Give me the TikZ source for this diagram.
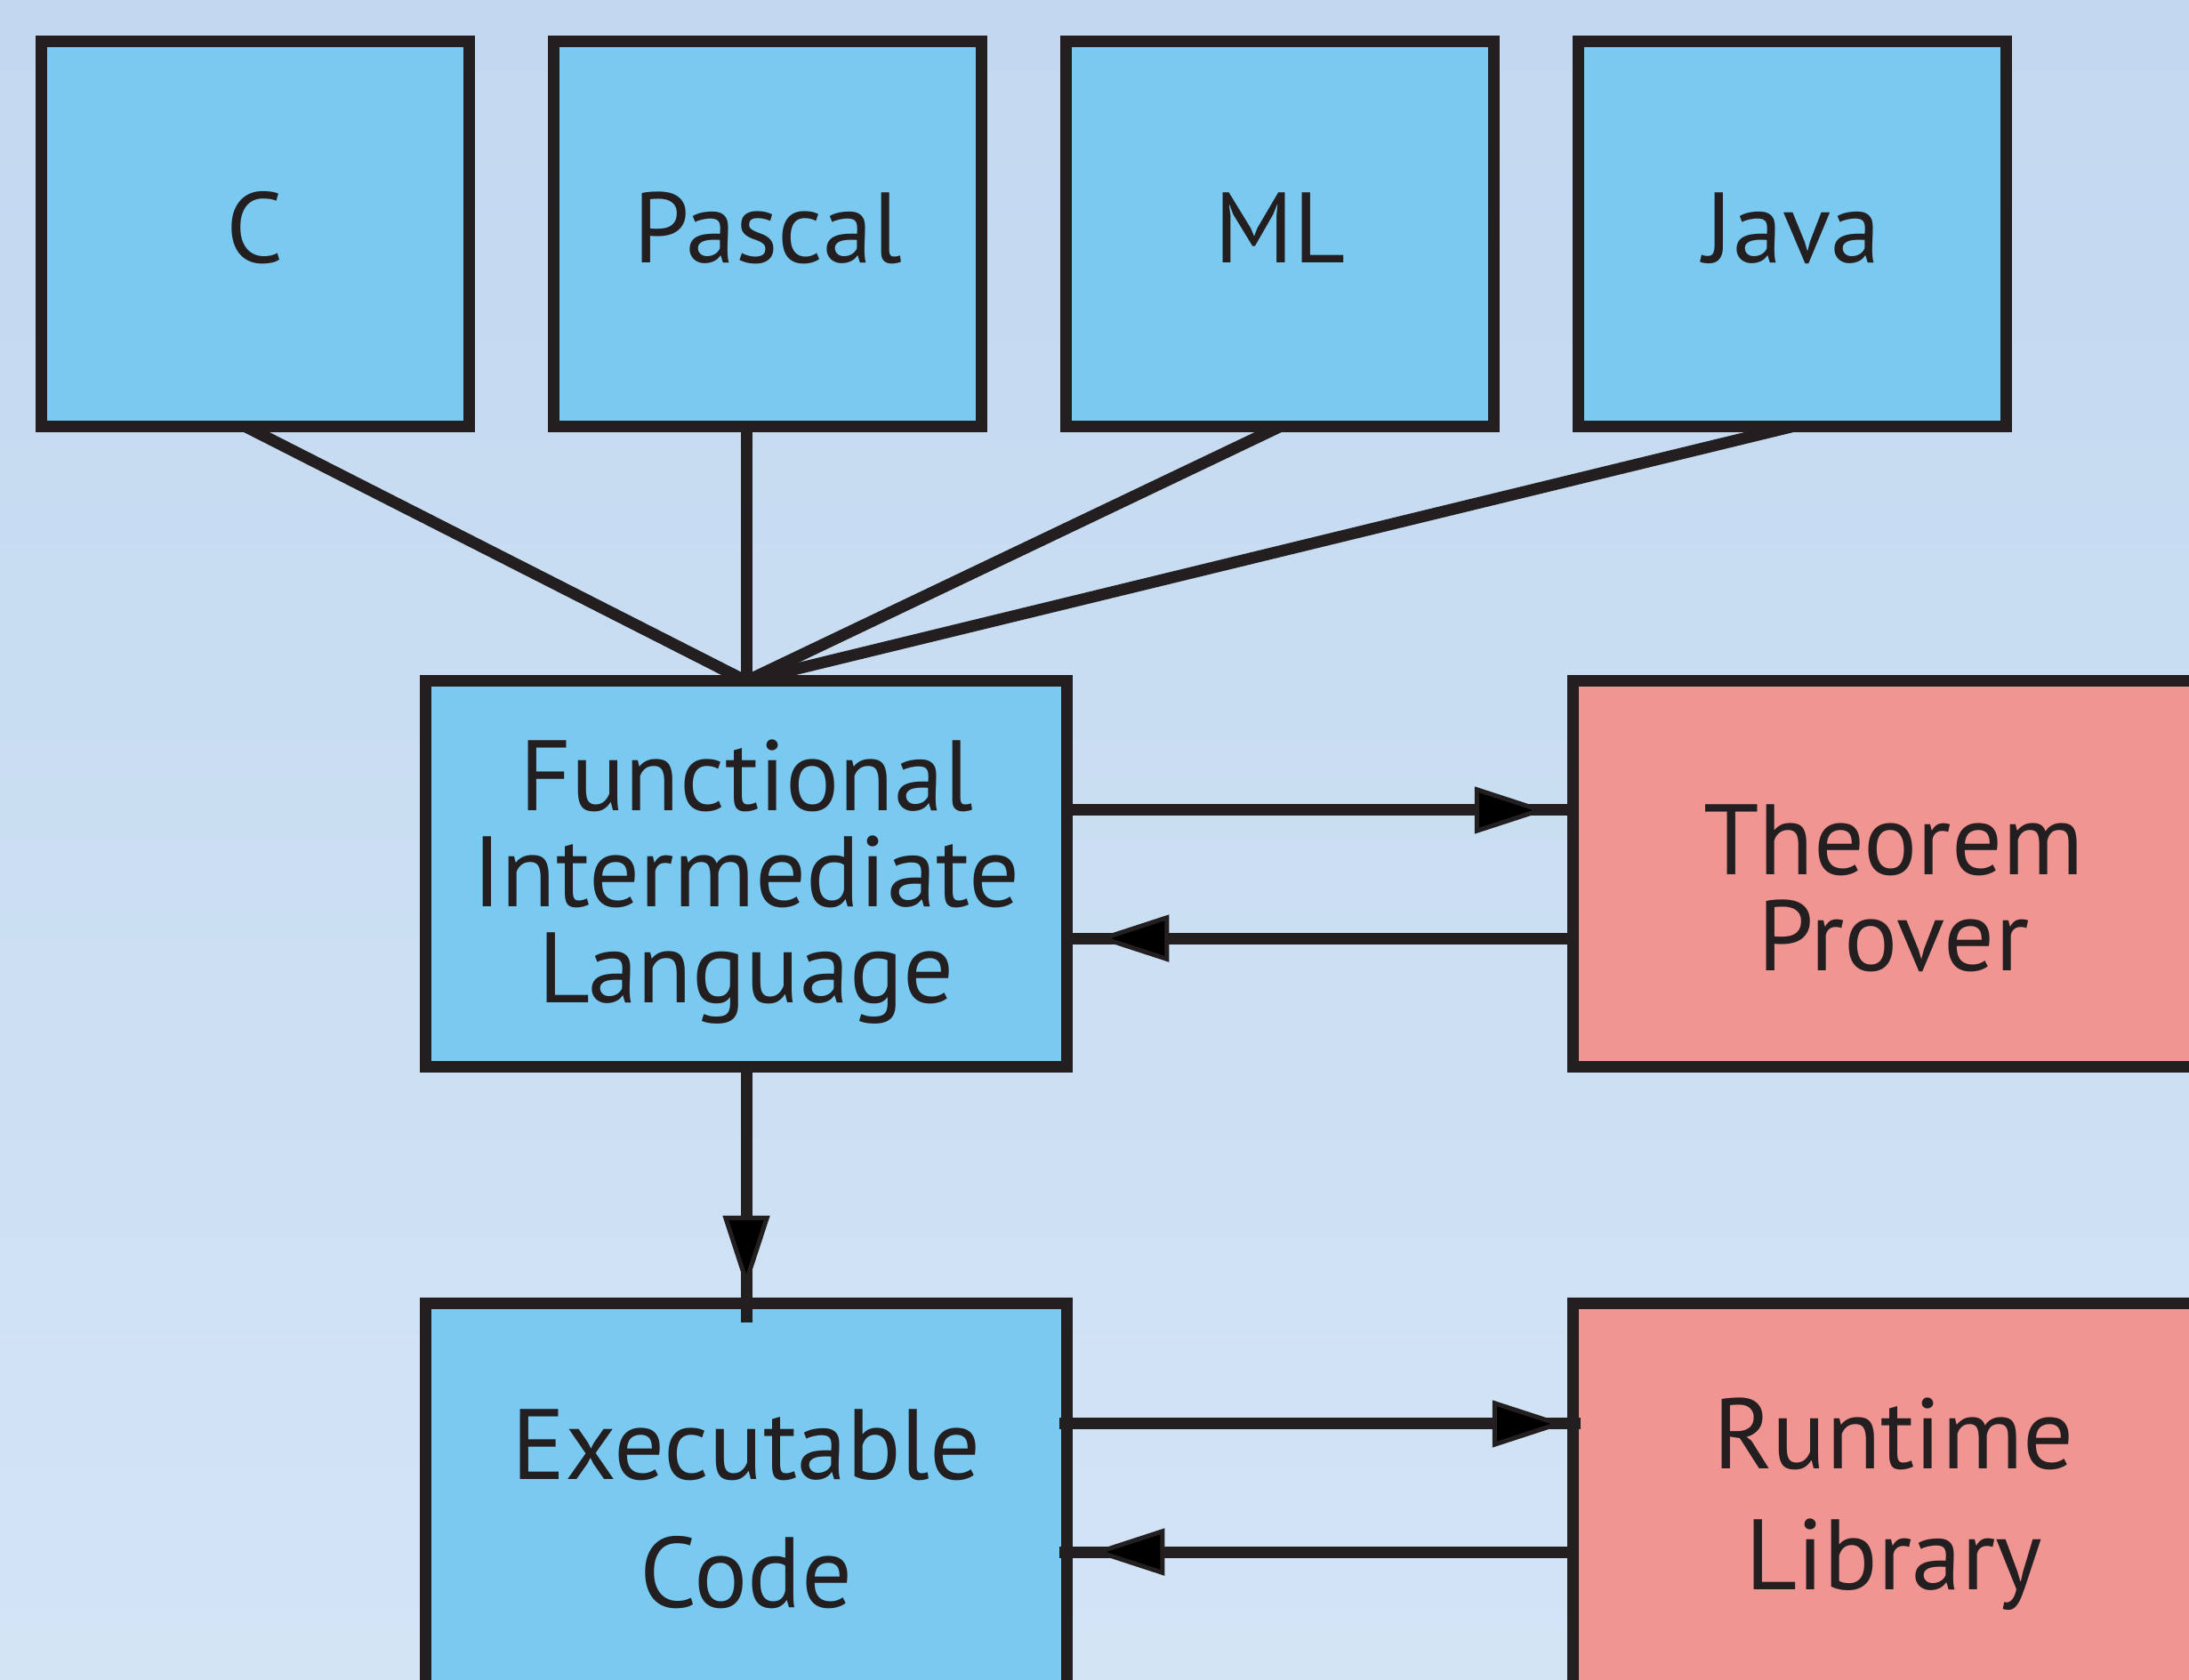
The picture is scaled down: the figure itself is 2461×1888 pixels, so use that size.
\documentclass[tikz,border=0pt]{standalone}
\usepackage{fontspec}
\setmainfont{PT Sans}
\usetikzlibrary{arrows.meta}
\definecolor{bgtop}{RGB}{194,216,240}
\definecolor{bgbot}{RGB}{211,228,245}
\definecolor{boxblue}{RGB}{122,201,240}
\definecolor{boxred}{RGB}{240,149,145}
\definecolor{ink}{RGB}{35,31,32}
\begin{document}
\begin{tikzpicture}[x=0.01cm,y=-0.01cm,
  box/.style={draw=ink, line width=0.13cm, inner sep=0pt, outer sep=0pt,
    text=ink, align=center},
  lang/.style={box, fill=boxblue, minimum width=4.8cm, minimum height=4.33cm,
    text height=0.84cm, text depth=0.2cm, font=\fontsize{32pt}{30.6pt}\selectfont},
  stage/.style={box, minimum width=7.2cm, minimum height=4.33cm},
  conn/.style={draw=ink, line width=0.13cm},
  tipped/.style={postaction={draw=ink, shorten >=#1,
    -{Triangle[length=0.82cm, width=0.52cm, line width'=0.05cm, fill=black]}}}
]
\useasboundingbox (0,0) rectangle (2461,1888);
\shade[top color=bgtop, bottom color=bgbot] (0,0) rectangle (2461,1888);
\clip (0,0) rectangle (2461,1888);

% source languages
\node[lang] (c) at (287,263) {C};
\node[lang] (pascal) at (863,263) {Pascal};
\node[lang] (ml) at (1439,263) {ML};
\node[lang] (java) at (2015,263) {Java};

% stages
\node[stage, fill=boxblue, font=\fontsize{32pt}{30.6pt}\selectfont] (fil) at (839,982.5)
  {\rule{0pt}{1.00cm}Functional\\Intermediate\\\rule[-0.26cm]{0pt}{0.26cm}Language};
\node[stage, fill=boxred, font=\fontsize{32pt}{30.7pt}\selectfont] (tp) at (2129,982.5)
  {\rule{0pt}{1.19cm}Theorem\\\rule[-0.10cm]{0pt}{0.10cm}Prover};
\node[stage, fill=boxblue, font=\fontsize{32pt}{40.7pt}\selectfont] (ec) at (839,1682.5)
  {\rule{0pt}{1.16cm}Executable\\\rule[-0.10cm]{0pt}{0.10cm}Code};
\node[stage, fill=boxred, font=\fontsize{32pt}{38.9pt}\selectfont] (rl) at (2129,1682.5)
  {\rule{0pt}{1.04cm}Runtime\\\rule[-0.30cm]{0pt}{0.30cm}Library};

% languages into the intermediate language
\draw[conn] ([xshift=-0.11cm]c.south) -- (fil.north);
\draw[conn] (fil.north |- pascal.south) -- (fil.north);
\draw[conn] (ml.south) -- (fil.north);
\draw[conn] (java.south) -- (fil.north);

% intermediate language <-> theorem prover
\draw[conn, tipped=0.29cm] ([yshift=0.715cm]fil.east) -- ([yshift=0.715cm]tp.west);
\draw[conn, tipped=0.33cm] ([yshift=-0.725cm]tp.west) -- ([yshift=-0.725cm]fil.east);

% intermediate language -> executable code
\coordinate (vend) at ([yshift=-0.21cm]ec.north);
\draw[conn, tipped=0.38cm] (fil.south) -- (vend);

% executable code <-> runtime library
\coordinate (ecout) at ([xshift=-0.08cm, yshift=0.815cm]ec.east);
\coordinate (rlin) at ([xshift=0.08cm, yshift=0.815cm]rl.west);
\draw[conn, tipped=0.17cm] (ecout) -- (rlin);
\coordinate (ecin) at ([xshift=-0.08cm, yshift=-0.625cm]ec.east);
\draw[conn, tipped=0.36cm] ([yshift=-0.625cm]rl.west) -- (ecin);
\end{tikzpicture}
\end{document}
